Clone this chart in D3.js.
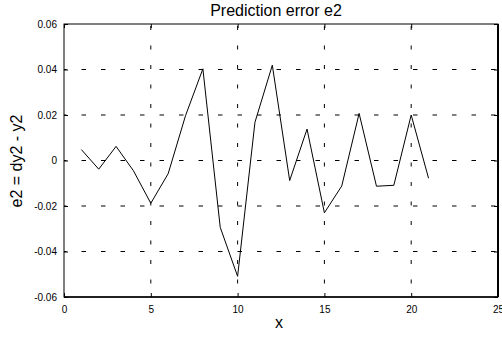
<!DOCTYPE html>
<html>
<head>
<meta charset="utf-8">
<script src="https://cdn.jsdelivr.net/npm/d3@7"></script>
<style>
  body { margin: 0; background: #fff; }
  text { font-family: "Liberation Sans", Arial, sans-serif; fill: #000; }
</style>
</head>
<body>
<div id="container"></div>
<script>
const WIDTH = 502;
const HEIGHT = 338;
const MARGIN = { TOP: 24, BOTTOM: 41, LEFT: 64, RIGHT: 4 };

const width = WIDTH - MARGIN.LEFT - MARGIN.RIGHT;
const height = HEIGHT - MARGIN.TOP - MARGIN.BOTTOM;

// datos
const xs = [1, 2, 3, 4, 5, 6, 7, 8, 9, 10, 11, 12, 13, 14, 15, 16, 17, 18, 19, 20, 21];
const e2 = [0.0048, -0.0038, 0.0062, -0.0045, -0.0188, -0.0058, 0.0197, 0.0403, -0.0294, -0.0509,
            0.0168, 0.0419, -0.0088, 0.0138, -0.0230, -0.0112, 0.0207, -0.0113, -0.0109, 0.0200, -0.0078];
const xTicks = [0, 5, 10, 15, 20, 25];
const yTicks = [-0.06, -0.04, -0.02, 0, 0.02, 0.04, 0.06];

const svg = d3.select('#container')
  .append('svg')
    .attr('width', WIDTH)
    .attr('height', HEIGHT);

const container = svg.append('g')
    .attr('transform', `translate(${MARGIN.LEFT}, ${MARGIN.TOP})`);

const x = d3.scaleLinear().domain([0, 25]).range([0, width]);
const y = d3.scaleLinear().domain([-0.06, 0.06]).range([height, 0]);

// grilla punteada
container.selectAll('.hgrid')
  .data(yTicks.slice(1, -1))
  .enter()
  .append('line')
    .attr('x1', 0).attr('x2', width)
    .attr('y1', d => y(d)).attr('y2', d => y(d))
    .attr('stroke', '#000')
    .attr('stroke-width', 1)
    .attr('stroke-dasharray', '4.5,15')
    .attr('stroke-dashoffset', -17.5);

container.selectAll('.vgrid')
  .data(xTicks.slice(1, -1))
  .enter()
  .append('line')
    .attr('x1', d => x(d)).attr('x2', d => x(d))
    .attr('y1', 0).attr('y2', height)
    .attr('stroke', '#000')
    .attr('stroke-width', 1)
    .attr('stroke-dasharray', '4,15.5')
    .attr('stroke-dashoffset', -2);

// ejes (ticks hacia adentro)
const fmt = d => d === 0 ? '0' : d3.format('.2f')(d).replace('−', '-');

const xAxis = d3.axisBottom(x).tickValues(xTicks).tickSizeInner(-4).tickSizeOuter(0).tickPadding(9).tickFormat(d3.format('d'));
const yAxis = d3.axisLeft(y).tickValues(yTicks).tickSizeInner(-4).tickSizeOuter(0).tickPadding(7).tickFormat(fmt);

const gx = container.append('g')
  .attr('transform', `translate(0, ${height})`)
  .call(xAxis);
const gy = container.append('g').call(yAxis);

container.append('g').call(d3.axisTop(x).tickValues(xTicks).tickSizeInner(-4).tickSizeOuter(0).tickFormat(''));
container.append('g').attr('transform', `translate(${width}, 0)`)
  .call(d3.axisRight(y).tickValues(yTicks).tickSizeInner(-4).tickSizeOuter(0).tickFormat(''));

svg.selectAll('.domain').remove();
svg.selectAll('.tick line').attr('stroke', '#000');
svg.selectAll('.tick text')
  .style('font-family', '"Liberation Sans", Arial, sans-serif')
  .style('font-size', '10px')
  .attr('fill', '#000');

// marco
container.append('rect')
  .attr('x', 0).attr('y', 0)
  .attr('width', width).attr('height', height)
  .attr('fill', 'none')
  .attr('stroke', '#000')
  .attr('stroke-width', 1);
container.append('line')
  .attr('x1', width).attr('x2', width)
  .attr('y1', 0).attr('y2', height)
  .attr('stroke', '#000').attr('stroke-width', 2);
container.append('line')
  .attr('x1', 0).attr('x2', width)
  .attr('y1', height).attr('y2', height)
  .attr('stroke', '#000').attr('stroke-width', 1.5);

// serie
const line = d3.line()
  .x((d, i) => x(xs[i]))
  .y(d => y(d));

container.append('path')
  .datum(e2)
  .attr('d', line)
  .attr('fill', 'none')
  .attr('stroke', '#000')
  .attr('stroke-width', 1);

// textos
svg.append('text')
  .attr('x', 276).attr('y', 16)
  .attr('text-anchor', 'middle')
  .style('font-size', '16px')
  .text('Prediction error e2');

svg.append('text')
  .attr('x', 279).attr('y', 328)
  .attr('text-anchor', 'middle')
  .style('font-size', '16px')
  .text('x');

svg.append('text')
  .attr('transform', 'translate(22, 161) rotate(-90)')
  .attr('text-anchor', 'middle')
  .style('font-size', '16px')
  .text('e2 = dy2 - y2');
</script>
</body>
</html>
